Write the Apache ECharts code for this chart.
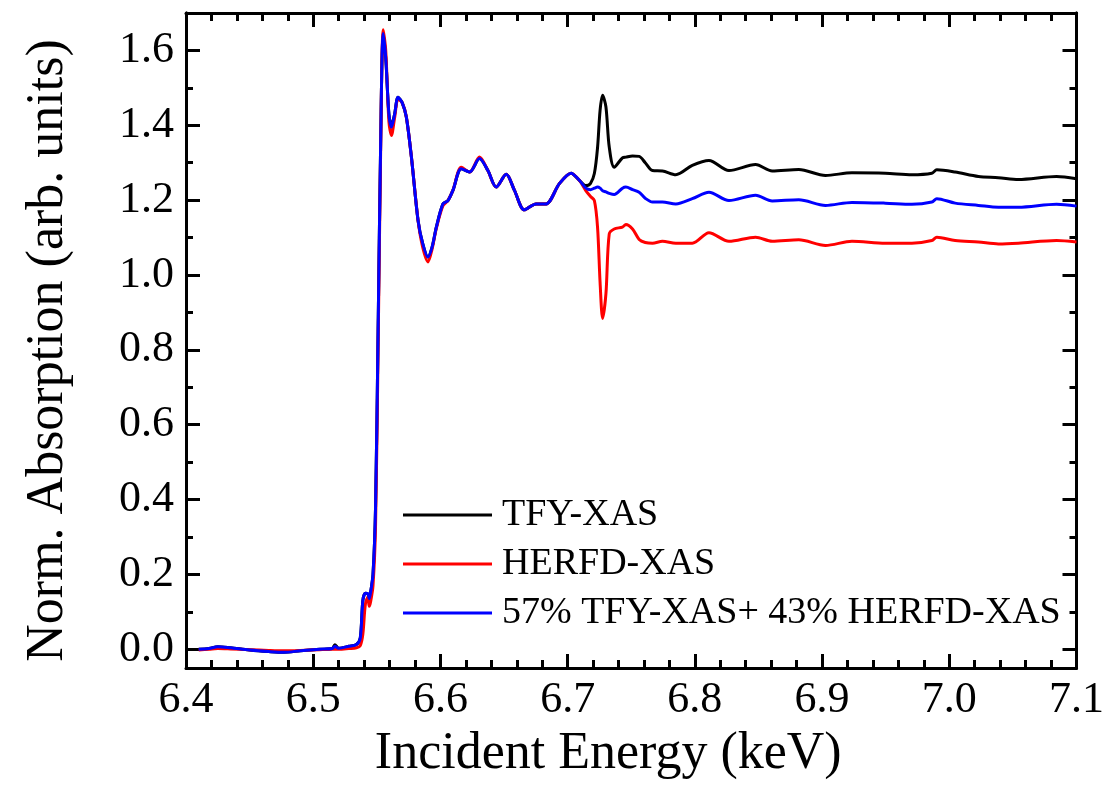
<!DOCTYPE html>
<html>
<head>
<meta charset="utf-8">
<script src="https://cdn.jsdelivr.net/npm/echarts@6/dist/echarts.min.js"></script>
<style>
  html, body { margin: 0; padding: 0; background: #fff; }
  #chart { width: 1107px; height: 789px; }
</style>
</head>
<body>
<div id="chart"></div>
<script>
// Incident energy grid (keV)
const energy = [
  6.410, 6.418, 6.425, 6.435, 6.450, 6.465, 6.477, 6.490, 6.505, 6.515,
  6.517, 6.520, 6.528, 6.534, 6.537, 6.539, 6.541, 6.543, 6.544, 6.545,
  6.547, 6.549, 6.551, 6.553, 6.555, 6.557, 6.5595, 6.5615, 6.564, 6.5667,
  6.570, 6.5732, 6.5772, 6.5824, 6.586, 6.5902, 6.5935, 6.5968, 6.602, 6.6059,
  6.6098, 6.6164, 6.6229, 6.6307, 6.6373, 6.6438, 6.6517, 6.6582, 6.666, 6.6752,
  6.683, 6.6935, 6.7027, 6.7092, 6.7144, 6.718, 6.721, 6.7235, 6.7255, 6.7275,
  6.7301, 6.7327, 6.7366, 6.7431, 6.7458, 6.751, 6.7562, 6.761, 6.7667, 6.7745,
  6.785, 6.798, 6.8111, 6.8268, 6.8477, 6.8608, 6.8817, 6.9027, 6.9235, 6.9497,
  6.9706, 6.9863, 6.9902, 7.0046, 7.0229, 7.0386, 7.0543, 7.0843, 7.1
];

// TFY-XAS
const tfy = [
  0.000, 0.002, 0.007, 0.004, -0.002, -0.006, -0.008, -0.004, 0.000, 0.002,
  0.012, 0.003, 0.008, 0.013, 0.030, 0.130, 0.150, 0.148, 0.135, 0.150,
  0.200, 0.380, 0.850, 1.350, 1.640, 1.580, 1.430, 1.400, 1.430, 1.475,
  1.460, 1.422, 1.315, 1.146, 1.085, 1.048, 1.075, 1.128, 1.190, 1.199,
  1.226, 1.284, 1.275, 1.311, 1.279, 1.235, 1.269, 1.226, 1.174, 1.190,
  1.190, 1.244, 1.272, 1.253, 1.239, 1.245, 1.271, 1.340, 1.440, 1.480,
  1.449, 1.342, 1.288, 1.313, 1.315, 1.318, 1.317, 1.300, 1.279, 1.278,
  1.268, 1.293, 1.306, 1.279, 1.295, 1.278, 1.282, 1.266, 1.273, 1.272,
  1.268, 1.272, 1.281, 1.275, 1.263, 1.260, 1.255, 1.263, 1.257
];

// HERFD-XAS
const herfd = [
  -0.002, 0.000, 0.002, 0.001, -0.001, -0.003, -0.004, -0.003, -0.001, 0.000,
  0.000, 0.000, 0.002, 0.004, 0.010, 0.040, 0.120, 0.140, 0.115, 0.125,
  0.170, 0.330, 0.800, 1.330, 1.655, 1.600, 1.410, 1.373, 1.420, 1.470,
  1.460, 1.422, 1.315, 1.146, 1.075, 1.035, 1.070, 1.125, 1.185, 1.199,
  1.226, 1.288, 1.275, 1.315, 1.279, 1.235, 1.269, 1.226, 1.174, 1.190,
  1.190, 1.244, 1.272, 1.253, 1.225, 1.210, 1.199, 1.128, 0.980, 0.884,
  0.950, 1.110, 1.123, 1.128, 1.135, 1.123, 1.095, 1.087, 1.085, 1.090,
  1.085, 1.085, 1.113, 1.090, 1.101, 1.090, 1.094, 1.079, 1.090, 1.085,
  1.085, 1.092, 1.101, 1.092, 1.088, 1.083, 1.085, 1.092, 1.088
];

// 57% TFY-XAS + 43% HERFD-XAS
const mix = [
  0.000, 0.002, 0.007, 0.004, -0.002, -0.006, -0.008, -0.004, 0.000, 0.002,
  0.008, 0.003, 0.008, 0.013, 0.030, 0.130, 0.150, 0.148, 0.135, 0.150,
  0.200, 0.380, 0.850, 1.350, 1.645, 1.580, 1.430, 1.395, 1.430, 1.475,
  1.460, 1.422, 1.315, 1.146, 1.085, 1.048, 1.075, 1.128, 1.190, 1.199,
  1.226, 1.284, 1.275, 1.311, 1.279, 1.235, 1.269, 1.226, 1.174, 1.190,
  1.190, 1.244, 1.272, 1.253, 1.232, 1.228, 1.232, 1.235, 1.232, 1.225,
  1.222, 1.218, 1.215, 1.232, 1.235, 1.228, 1.221, 1.205, 1.195, 1.195,
  1.190, 1.204, 1.221, 1.199, 1.213, 1.198, 1.201, 1.186, 1.194, 1.192,
  1.189, 1.195, 1.204, 1.192, 1.186, 1.181, 1.181, 1.189, 1.184
];

// Axis tick positions
const yMajorTicks = [0.0, 0.2, 0.4, 0.6, 0.8, 1.0, 1.2, 1.4, 1.6];
const yMinorTicks = [0.1, 0.3, 0.5, 0.7, 0.9, 1.1, 1.3, 1.5];

const seriesNames = ['TFY-XAS', 'HERFD-XAS', '57% TFY-XAS+ 43% HERFD-XAS'];
const seriesColors = ['#000000', '#ff0000', '#0000ff'];

const FONT = 'Liberation Serif';
const pair = (vals) => energy.map((e, i) => [e, vals[i]]);

const frameLine = { show: true, onZero: false, lineStyle: { color: '#000', width: 3 } };

function xAx(pos, labels) {
  return {
    type: 'value', position: pos, min: 6.4, max: 7.1, interval: 0.1,
    axisLine: frameLine,
    axisTick: { show: true, inside: true, length: 14, lineStyle: { color: '#000', width: 3 } },
    minorTick: { show: true, splitNumber: 5, length: 8, lineStyle: { color: '#000', width: 3 } },
    splitLine: { show: false }, minorSplitLine: { show: false },
    axisLabel: {
      show: labels, margin: 10, color: '#000', fontFamily: FONT, fontSize: 44,
      formatter: (v) => v.toFixed(1)
    },
    name: labels ? 'Incident Energy (keV)' : '',
    nameLocation: 'middle', nameGap: 60,
    nameTextStyle: { color: '#000', fontFamily: FONT, fontSize: 52, padding: [0, 46, 0, 0] }
  };
}

function yAx(pos, ticks, len, labels) {
  return {
    type: 'value', position: pos, min: -0.05, max: 1.7,
    axisLine: frameLine,
    axisTick: { show: true, inside: true, length: len, customValues: ticks,
                lineStyle: { color: '#000', width: 3 } },
    splitLine: { show: false },
    axisLabel: {
      show: labels, customValues: ticks, margin: 12, color: '#000',
      fontFamily: FONT, fontSize: 44, formatter: (v) => v.toFixed(1)
    },
    name: labels ? 'Norm. Absorption (arb. units)' : '',
    nameLocation: 'middle', nameGap: 112,
    nameTextStyle: { color: '#000', fontFamily: FONT, fontSize: 52, padding: [0, 20, 0, 0] }
  };
}

const chart = echarts.init(document.getElementById('chart'), null, { renderer: 'canvas' });

chart.setOption({
  backgroundColor: '#fff',
  animation: false,
  grid: { left: 186, right: 28, top: 13, bottom: 121, containLabel: false },
  xAxis: [xAx('bottom', true), xAx('top', false)],
  yAxis: [
    yAx('left', yMajorTicks, 14, true),
    yAx('left', yMinorTicks, 7, false),
    yAx('right', yMajorTicks, 14, false),
    yAx('right', yMinorTicks, 7, false)
  ],
  legend: {
    orient: 'vertical', left: 403, top: 496, padding: 0,
    itemWidth: 89, itemHeight: 3, itemGap: 11,
    icon: 'rect',
    data: seriesNames,
    textStyle: { color: '#000', fontFamily: FONT, fontSize: 38, lineHeight: 38, padding: [0, 0, 0, 5] }
  },
  series: [tfy, herfd, mix].map((vals, i) => ({
    name: seriesNames[i],
    type: 'line',
    xAxisIndex: 0, yAxisIndex: 0,
    data: pair(vals),
    symbol: 'none',
    smooth: 0.3,
    lineStyle: { color: seriesColors[i], width: 3 },
    itemStyle: { color: seriesColors[i] },
    z: 2 + i
  }))
});
</script>
</body>
</html>
